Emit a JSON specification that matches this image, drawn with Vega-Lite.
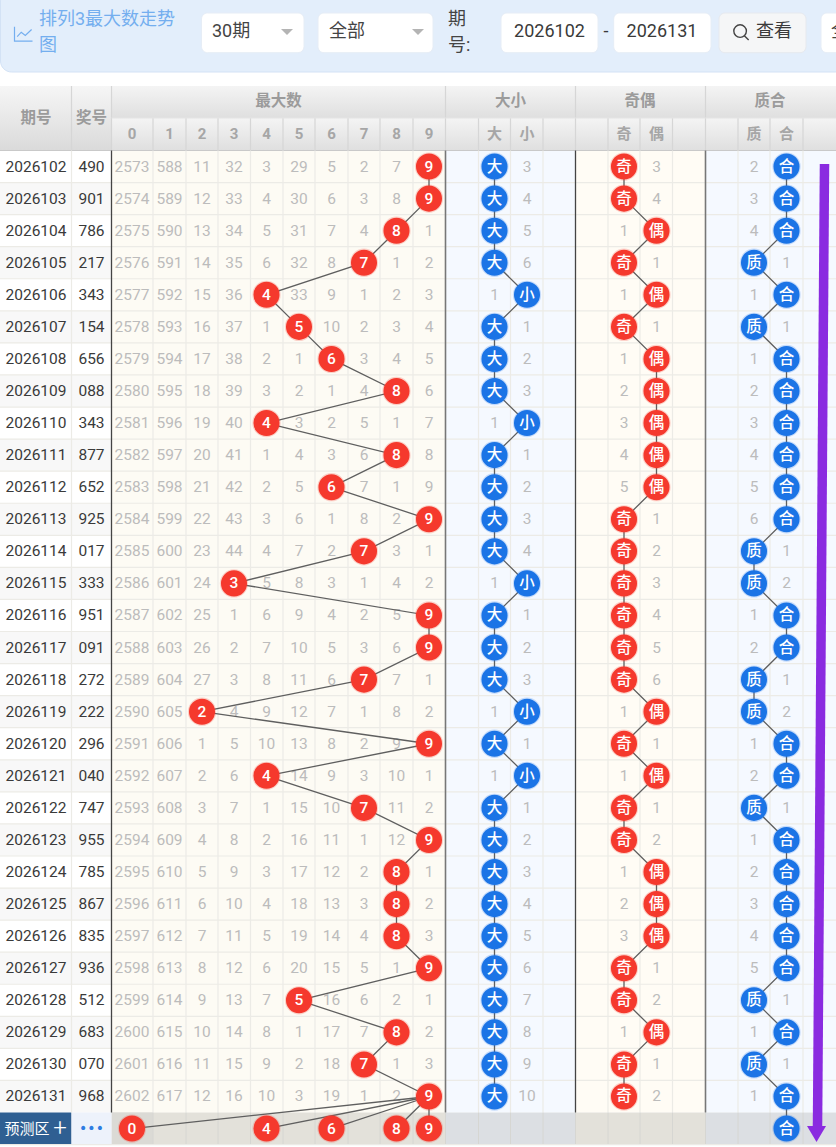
{"$schema":"https://vega.github.io/schema/vega-lite/v6.json","width":836,"height":1147,"padding":0,"autosize":{"type":"none"},"background":"#ffffff","config":{"view":{"stroke":null},"text":{"font":"Roboto, Noto Sans CJK SC"}},
"datasets":{
"zones":[
{"zone":"alt","col":-2.5,"col2":-0.5,"row":0.5,"row2":1.5},{"zone":"alt","col":-2.5,"col2":-0.5,"row":2.5,"row2":3.5},{"zone":"alt","col":-2.5,"col2":-0.5,"row":4.5,"row2":5.5},{"zone":"alt","col":-2.5,"col2":-0.5,"row":6.5,"row2":7.5},{"zone":"alt","col":-2.5,"col2":-0.5,"row":8.5,"row2":9.5},{"zone":"alt","col":-2.5,"col2":-0.5,"row":10.5,"row2":11.5},{"zone":"alt","col":-2.5,"col2":-0.5,"row":12.5,"row2":13.5},{"zone":"alt","col":-2.5,"col2":-0.5,"row":14.5,"row2":15.5},{"zone":"alt","col":-2.5,"col2":-0.5,"row":16.5,"row2":17.5},{"zone":"alt","col":-2.5,"col2":-0.5,"row":18.5,"row2":19.5},{"zone":"alt","col":-2.5,"col2":-0.5,"row":20.5,"row2":21.5},{"zone":"alt","col":-2.5,"col2":-0.5,"row":22.5,"row2":23.5},{"zone":"alt","col":-2.5,"col2":-0.5,"row":24.5,"row2":25.5},{"zone":"alt","col":-2.5,"col2":-0.5,"row":26.5,"row2":27.5},{"zone":"alt","col":-2.5,"col2":-0.5,"row":28.5,"row2":29.5},
{"zone":"cream","col":-0.5,"col2":9.5,"row":-0.5,"row2":29.5},{"zone":"blue","col":9.5,"col2":13.5,"row":-0.5,"row2":29.5},{"zone":"cream2","col":13.5,"col2":17.5,"row":-0.5,"row2":29.5},{"zone":"blue","col":17.5,"col2":21.5,"row":-0.5,"row2":29.5},
{"zone":"fcream","col":-0.5,"col2":9.5,"row":29.5,"row2":30.5},{"zone":"fcell","col":-0.5,"col2":0.5,"row":29.5,"row2":30.5},{"zone":"fblue","col":9.5,"col2":13.5,"row":29.5,"row2":30.5},{"zone":"fcream","col":13.5,"col2":17.5,"row":29.5,"row2":30.5},{"zone":"fblue","col":17.5,"col2":21.5,"row":29.5,"row2":30.5},
{"zone":"navy","col":-2.5,"col2":-1.5,"row":29.5,"row2":30.5},{"zone":"pale","col":-1.5,"col2":-0.5,"row":29.5,"row2":30.5}],
"headFull":[{"col":-2.5,"col2":-1.5,"row":-13,"row2":-0.5},{"col":-1.5,"col2":-0.5,"row":-13,"row2":-0.5}],
"headBand":[{"col":-0.5,"col2":21.5,"row":-13,"row2":-11},{"col":-0.5,"col2":21.5,"row":-11,"row2":-0.5}],
"controls":[{"col":103,"col2":106,"row":-19,"row2":-15},{"col":107,"col2":110,"row":-19,"row2":-15},{"col":112,"col2":114,"row":-19,"row2":-15},{"col":116,"col2":118,"row":-19,"row2":-15},{"col":123,"col2":125,"row":-19,"row2":-15}],
"carets":[{"col":105,"row":-17},{"col":109,"row":-17}],
"gridV":[{"col":-1.5,"row":-0.5},{"col":0.5,"row":-0.5},{"col":1.5,"row":-0.5},{"col":2.5,"row":-0.5},{"col":3.5,"row":-0.5},{"col":4.5,"row":-0.5},{"col":5.5,"row":-0.5},{"col":6.5,"row":-0.5},{"col":7.5,"row":-0.5},{"col":8.5,"row":-0.5},{"col":10.5,"row":-0.5},{"col":11.5,"row":-0.5},{"col":12.5,"row":-0.5},{"col":14.5,"row":-0.5},{"col":15.5,"row":-0.5},{"col":16.5,"row":-0.5},{"col":18.5,"row":-0.5},{"col":19.5,"row":-0.5},{"col":20.5,"row":-0.5}],
"gridFore":[{"col":0.5,"row":29.5},{"col":1.5,"row":29.5},{"col":2.5,"row":29.5},{"col":3.5,"row":29.5},{"col":4.5,"row":29.5},{"col":5.5,"row":29.5},{"col":6.5,"row":29.5},{"col":7.5,"row":29.5},{"col":8.5,"row":29.5},{"col":9.5,"row":29.5},{"col":10.5,"row":29.5},{"col":11.5,"row":29.5},{"col":12.5,"row":29.5},{"col":13.5,"row":29.5},{"col":14.5,"row":29.5},{"col":15.5,"row":29.5},{"col":16.5,"row":29.5},{"col":17.5,"row":29.5},{"col":18.5,"row":29.5},{"col":19.5,"row":29.5},{"col":20.5,"row":29.5}],
"headV":[{"col":-1.5,"row":-13},{"col":-0.5,"row":-13},{"col":9.5,"row":-13},{"col":13.5,"row":-13},{"col":17.5,"row":-13},{"col":0.5,"row":-11},{"col":1.5,"row":-11},{"col":2.5,"row":-11},{"col":3.5,"row":-11},{"col":4.5,"row":-11},{"col":5.5,"row":-11},{"col":6.5,"row":-11},{"col":7.5,"row":-11},{"col":8.5,"row":-11},{"col":10.5,"row":-11},{"col":11.5,"row":-11},{"col":12.5,"row":-11},{"col":14.5,"row":-11},{"col":15.5,"row":-11},{"col":16.5,"row":-11},{"col":18.5,"row":-11},{"col":19.5,"row":-11},{"col":20.5,"row":-11}],
"strong":[{"col":-0.5,"row":-0.5,"tone":"a"},{"col":9.5,"row":-0.5,"tone":"b"},{"col":13.5,"row":-0.5,"tone":"a"},{"col":17.5,"row":-0.5,"tone":"b"}],
"rowLines":[{"col":-2.5,"row":0.5},{"col":-2.5,"row":1.5},{"col":-2.5,"row":2.5},{"col":-2.5,"row":3.5},{"col":-2.5,"row":4.5},{"col":-2.5,"row":5.5},{"col":-2.5,"row":6.5},{"col":-2.5,"row":7.5},{"col":-2.5,"row":8.5},{"col":-2.5,"row":9.5},{"col":-2.5,"row":10.5},{"col":-2.5,"row":11.5},{"col":-2.5,"row":12.5},{"col":-2.5,"row":13.5},{"col":-2.5,"row":14.5},{"col":-2.5,"row":15.5},{"col":-2.5,"row":16.5},{"col":-2.5,"row":17.5},{"col":-2.5,"row":18.5},{"col":-2.5,"row":19.5},{"col":-2.5,"row":20.5},{"col":-2.5,"row":21.5},{"col":-2.5,"row":22.5},{"col":-2.5,"row":23.5},{"col":-2.5,"row":24.5},{"col":-2.5,"row":25.5},{"col":-2.5,"row":26.5},{"col":-2.5,"row":27.5},{"col":-2.5,"row":28.5},{"col":-2.5,"row":30.5}],
"draws":[{"row":0,"col":-2,"text":"2026102"},{"row":0,"col":-1,"text":"490"},{"row":1,"col":-2,"text":"2026103"},{"row":1,"col":-1,"text":"901"},{"row":2,"col":-2,"text":"2026104"},{"row":2,"col":-1,"text":"786"},{"row":3,"col":-2,"text":"2026105"},{"row":3,"col":-1,"text":"217"},{"row":4,"col":-2,"text":"2026106"},{"row":4,"col":-1,"text":"343"},{"row":5,"col":-2,"text":"2026107"},{"row":5,"col":-1,"text":"154"},{"row":6,"col":-2,"text":"2026108"},{"row":6,"col":-1,"text":"656"},{"row":7,"col":-2,"text":"2026109"},{"row":7,"col":-1,"text":"088"},{"row":8,"col":-2,"text":"2026110"},{"row":8,"col":-1,"text":"343"},{"row":9,"col":-2,"text":"2026111"},{"row":9,"col":-1,"text":"877"},{"row":10,"col":-2,"text":"2026112"},{"row":10,"col":-1,"text":"652"},{"row":11,"col":-2,"text":"2026113"},{"row":11,"col":-1,"text":"925"},{"row":12,"col":-2,"text":"2026114"},{"row":12,"col":-1,"text":"017"},{"row":13,"col":-2,"text":"2026115"},{"row":13,"col":-1,"text":"333"},{"row":14,"col":-2,"text":"2026116"},{"row":14,"col":-1,"text":"951"},{"row":15,"col":-2,"text":"2026117"},{"row":15,"col":-1,"text":"091"},{"row":16,"col":-2,"text":"2026118"},{"row":16,"col":-1,"text":"272"},{"row":17,"col":-2,"text":"2026119"},{"row":17,"col":-1,"text":"222"},{"row":18,"col":-2,"text":"2026120"},{"row":18,"col":-1,"text":"296"},{"row":19,"col":-2,"text":"2026121"},{"row":19,"col":-1,"text":"040"},{"row":20,"col":-2,"text":"2026122"},{"row":20,"col":-1,"text":"747"},{"row":21,"col":-2,"text":"2026123"},{"row":21,"col":-1,"text":"955"},{"row":22,"col":-2,"text":"2026124"},{"row":22,"col":-1,"text":"785"},{"row":23,"col":-2,"text":"2026125"},{"row":23,"col":-1,"text":"867"},{"row":24,"col":-2,"text":"2026126"},{"row":24,"col":-1,"text":"835"},{"row":25,"col":-2,"text":"2026127"},{"row":25,"col":-1,"text":"936"},{"row":26,"col":-2,"text":"2026128"},{"row":26,"col":-1,"text":"512"},{"row":27,"col":-2,"text":"2026129"},{"row":27,"col":-1,"text":"683"},{"row":28,"col":-2,"text":"2026130"},{"row":28,"col":-1,"text":"070"},{"row":29,"col":-2,"text":"2026131"},{"row":29,"col":-1,"text":"968"}],
"misses":[
{"row":0,"col":0,"text":"2573"},{"row":0,"col":1,"text":"588"},{"row":0,"col":2,"text":"11"},{"row":0,"col":3,"text":"32"},{"row":0,"col":4,"text":"3"},{"row":0,"col":5,"text":"29"},{"row":0,"col":6,"text":"5"},{"row":0,"col":7,"text":"2"},{"row":0,"col":8,"text":"7"},{"row":0,"col":12,"text":"3"},{"row":0,"col":16,"text":"3"},{"row":0,"col":19,"text":"2"},
{"row":1,"col":0,"text":"2574"},{"row":1,"col":1,"text":"589"},{"row":1,"col":2,"text":"12"},{"row":1,"col":3,"text":"33"},{"row":1,"col":4,"text":"4"},{"row":1,"col":5,"text":"30"},{"row":1,"col":6,"text":"6"},{"row":1,"col":7,"text":"3"},{"row":1,"col":8,"text":"8"},{"row":1,"col":12,"text":"4"},{"row":1,"col":16,"text":"4"},{"row":1,"col":19,"text":"3"},
{"row":2,"col":0,"text":"2575"},{"row":2,"col":1,"text":"590"},{"row":2,"col":2,"text":"13"},{"row":2,"col":3,"text":"34"},{"row":2,"col":4,"text":"5"},{"row":2,"col":5,"text":"31"},{"row":2,"col":6,"text":"7"},{"row":2,"col":7,"text":"4"},{"row":2,"col":9,"text":"1"},{"row":2,"col":12,"text":"5"},{"row":2,"col":15,"text":"1"},{"row":2,"col":19,"text":"4"},
{"row":3,"col":0,"text":"2576"},{"row":3,"col":1,"text":"591"},{"row":3,"col":2,"text":"14"},{"row":3,"col":3,"text":"35"},{"row":3,"col":4,"text":"6"},{"row":3,"col":5,"text":"32"},{"row":3,"col":6,"text":"8"},{"row":3,"col":8,"text":"1"},{"row":3,"col":9,"text":"2"},{"row":3,"col":12,"text":"6"},{"row":3,"col":16,"text":"1"},{"row":3,"col":20,"text":"1"},
{"row":4,"col":0,"text":"2577"},{"row":4,"col":1,"text":"592"},{"row":4,"col":2,"text":"15"},{"row":4,"col":3,"text":"36"},{"row":4,"col":5,"text":"33"},{"row":4,"col":6,"text":"9"},{"row":4,"col":7,"text":"1"},{"row":4,"col":8,"text":"2"},{"row":4,"col":9,"text":"3"},{"row":4,"col":11,"text":"1"},{"row":4,"col":15,"text":"1"},{"row":4,"col":19,"text":"1"},
{"row":5,"col":0,"text":"2578"},{"row":5,"col":1,"text":"593"},{"row":5,"col":2,"text":"16"},{"row":5,"col":3,"text":"37"},{"row":5,"col":4,"text":"1"},{"row":5,"col":6,"text":"10"},{"row":5,"col":7,"text":"2"},{"row":5,"col":8,"text":"3"},{"row":5,"col":9,"text":"4"},{"row":5,"col":12,"text":"1"},{"row":5,"col":16,"text":"1"},{"row":5,"col":20,"text":"1"},
{"row":6,"col":0,"text":"2579"},{"row":6,"col":1,"text":"594"},{"row":6,"col":2,"text":"17"},{"row":6,"col":3,"text":"38"},{"row":6,"col":4,"text":"2"},{"row":6,"col":5,"text":"1"},{"row":6,"col":7,"text":"3"},{"row":6,"col":8,"text":"4"},{"row":6,"col":9,"text":"5"},{"row":6,"col":12,"text":"2"},{"row":6,"col":15,"text":"1"},{"row":6,"col":19,"text":"1"},
{"row":7,"col":0,"text":"2580"},{"row":7,"col":1,"text":"595"},{"row":7,"col":2,"text":"18"},{"row":7,"col":3,"text":"39"},{"row":7,"col":4,"text":"3"},{"row":7,"col":5,"text":"2"},{"row":7,"col":6,"text":"1"},{"row":7,"col":7,"text":"4"},{"row":7,"col":9,"text":"6"},{"row":7,"col":12,"text":"3"},{"row":7,"col":15,"text":"2"},{"row":7,"col":19,"text":"2"},
{"row":8,"col":0,"text":"2581"},{"row":8,"col":1,"text":"596"},{"row":8,"col":2,"text":"19"},{"row":8,"col":3,"text":"40"},{"row":8,"col":5,"text":"3"},{"row":8,"col":6,"text":"2"},{"row":8,"col":7,"text":"5"},{"row":8,"col":8,"text":"1"},{"row":8,"col":9,"text":"7"},{"row":8,"col":11,"text":"1"},{"row":8,"col":15,"text":"3"},{"row":8,"col":19,"text":"3"},
{"row":9,"col":0,"text":"2582"},{"row":9,"col":1,"text":"597"},{"row":9,"col":2,"text":"20"},{"row":9,"col":3,"text":"41"},{"row":9,"col":4,"text":"1"},{"row":9,"col":5,"text":"4"},{"row":9,"col":6,"text":"3"},{"row":9,"col":7,"text":"6"},{"row":9,"col":9,"text":"8"},{"row":9,"col":12,"text":"1"},{"row":9,"col":15,"text":"4"},{"row":9,"col":19,"text":"4"},
{"row":10,"col":0,"text":"2583"},{"row":10,"col":1,"text":"598"},{"row":10,"col":2,"text":"21"},{"row":10,"col":3,"text":"42"},{"row":10,"col":4,"text":"2"},{"row":10,"col":5,"text":"5"},{"row":10,"col":7,"text":"7"},{"row":10,"col":8,"text":"1"},{"row":10,"col":9,"text":"9"},{"row":10,"col":12,"text":"2"},{"row":10,"col":15,"text":"5"},{"row":10,"col":19,"text":"5"},
{"row":11,"col":0,"text":"2584"},{"row":11,"col":1,"text":"599"},{"row":11,"col":2,"text":"22"},{"row":11,"col":3,"text":"43"},{"row":11,"col":4,"text":"3"},{"row":11,"col":5,"text":"6"},{"row":11,"col":6,"text":"1"},{"row":11,"col":7,"text":"8"},{"row":11,"col":8,"text":"2"},{"row":11,"col":12,"text":"3"},{"row":11,"col":16,"text":"1"},{"row":11,"col":19,"text":"6"},
{"row":12,"col":0,"text":"2585"},{"row":12,"col":1,"text":"600"},{"row":12,"col":2,"text":"23"},{"row":12,"col":3,"text":"44"},{"row":12,"col":4,"text":"4"},{"row":12,"col":5,"text":"7"},{"row":12,"col":6,"text":"2"},{"row":12,"col":8,"text":"3"},{"row":12,"col":9,"text":"1"},{"row":12,"col":12,"text":"4"},{"row":12,"col":16,"text":"2"},{"row":12,"col":20,"text":"1"},
{"row":13,"col":0,"text":"2586"},{"row":13,"col":1,"text":"601"},{"row":13,"col":2,"text":"24"},{"row":13,"col":4,"text":"5"},{"row":13,"col":5,"text":"8"},{"row":13,"col":6,"text":"3"},{"row":13,"col":7,"text":"1"},{"row":13,"col":8,"text":"4"},{"row":13,"col":9,"text":"2"},{"row":13,"col":11,"text":"1"},{"row":13,"col":16,"text":"3"},{"row":13,"col":20,"text":"2"},
{"row":14,"col":0,"text":"2587"},{"row":14,"col":1,"text":"602"},{"row":14,"col":2,"text":"25"},{"row":14,"col":3,"text":"1"},{"row":14,"col":4,"text":"6"},{"row":14,"col":5,"text":"9"},{"row":14,"col":6,"text":"4"},{"row":14,"col":7,"text":"2"},{"row":14,"col":8,"text":"5"},{"row":14,"col":12,"text":"1"},{"row":14,"col":16,"text":"4"},{"row":14,"col":19,"text":"1"},
{"row":15,"col":0,"text":"2588"},{"row":15,"col":1,"text":"603"},{"row":15,"col":2,"text":"26"},{"row":15,"col":3,"text":"2"},{"row":15,"col":4,"text":"7"},{"row":15,"col":5,"text":"10"},{"row":15,"col":6,"text":"5"},{"row":15,"col":7,"text":"3"},{"row":15,"col":8,"text":"6"},{"row":15,"col":12,"text":"2"},{"row":15,"col":16,"text":"5"},{"row":15,"col":19,"text":"2"},
{"row":16,"col":0,"text":"2589"},{"row":16,"col":1,"text":"604"},{"row":16,"col":2,"text":"27"},{"row":16,"col":3,"text":"3"},{"row":16,"col":4,"text":"8"},{"row":16,"col":5,"text":"11"},{"row":16,"col":6,"text":"6"},{"row":16,"col":8,"text":"7"},{"row":16,"col":9,"text":"1"},{"row":16,"col":12,"text":"3"},{"row":16,"col":16,"text":"6"},{"row":16,"col":20,"text":"1"},
{"row":17,"col":0,"text":"2590"},{"row":17,"col":1,"text":"605"},{"row":17,"col":3,"text":"4"},{"row":17,"col":4,"text":"9"},{"row":17,"col":5,"text":"12"},{"row":17,"col":6,"text":"7"},{"row":17,"col":7,"text":"1"},{"row":17,"col":8,"text":"8"},{"row":17,"col":9,"text":"2"},{"row":17,"col":11,"text":"1"},{"row":17,"col":15,"text":"1"},{"row":17,"col":20,"text":"2"},
{"row":18,"col":0,"text":"2591"},{"row":18,"col":1,"text":"606"},{"row":18,"col":2,"text":"1"},{"row":18,"col":3,"text":"5"},{"row":18,"col":4,"text":"10"},{"row":18,"col":5,"text":"13"},{"row":18,"col":6,"text":"8"},{"row":18,"col":7,"text":"2"},{"row":18,"col":8,"text":"9"},{"row":18,"col":12,"text":"1"},{"row":18,"col":16,"text":"1"},{"row":18,"col":19,"text":"1"},
{"row":19,"col":0,"text":"2592"},{"row":19,"col":1,"text":"607"},{"row":19,"col":2,"text":"2"},{"row":19,"col":3,"text":"6"},{"row":19,"col":5,"text":"14"},{"row":19,"col":6,"text":"9"},{"row":19,"col":7,"text":"3"},{"row":19,"col":8,"text":"10"},{"row":19,"col":9,"text":"1"},{"row":19,"col":11,"text":"1"},{"row":19,"col":15,"text":"1"},{"row":19,"col":19,"text":"2"},
{"row":20,"col":0,"text":"2593"},{"row":20,"col":1,"text":"608"},{"row":20,"col":2,"text":"3"},{"row":20,"col":3,"text":"7"},{"row":20,"col":4,"text":"1"},{"row":20,"col":5,"text":"15"},{"row":20,"col":6,"text":"10"},{"row":20,"col":8,"text":"11"},{"row":20,"col":9,"text":"2"},{"row":20,"col":12,"text":"1"},{"row":20,"col":16,"text":"1"},{"row":20,"col":20,"text":"1"},
{"row":21,"col":0,"text":"2594"},{"row":21,"col":1,"text":"609"},{"row":21,"col":2,"text":"4"},{"row":21,"col":3,"text":"8"},{"row":21,"col":4,"text":"2"},{"row":21,"col":5,"text":"16"},{"row":21,"col":6,"text":"11"},{"row":21,"col":7,"text":"1"},{"row":21,"col":8,"text":"12"},{"row":21,"col":12,"text":"2"},{"row":21,"col":16,"text":"2"},{"row":21,"col":19,"text":"1"},
{"row":22,"col":0,"text":"2595"},{"row":22,"col":1,"text":"610"},{"row":22,"col":2,"text":"5"},{"row":22,"col":3,"text":"9"},{"row":22,"col":4,"text":"3"},{"row":22,"col":5,"text":"17"},{"row":22,"col":6,"text":"12"},{"row":22,"col":7,"text":"2"},{"row":22,"col":9,"text":"1"},{"row":22,"col":12,"text":"3"},{"row":22,"col":15,"text":"1"},{"row":22,"col":19,"text":"2"},
{"row":23,"col":0,"text":"2596"},{"row":23,"col":1,"text":"611"},{"row":23,"col":2,"text":"6"},{"row":23,"col":3,"text":"10"},{"row":23,"col":4,"text":"4"},{"row":23,"col":5,"text":"18"},{"row":23,"col":6,"text":"13"},{"row":23,"col":7,"text":"3"},{"row":23,"col":9,"text":"2"},{"row":23,"col":12,"text":"4"},{"row":23,"col":15,"text":"2"},{"row":23,"col":19,"text":"3"},
{"row":24,"col":0,"text":"2597"},{"row":24,"col":1,"text":"612"},{"row":24,"col":2,"text":"7"},{"row":24,"col":3,"text":"11"},{"row":24,"col":4,"text":"5"},{"row":24,"col":5,"text":"19"},{"row":24,"col":6,"text":"14"},{"row":24,"col":7,"text":"4"},{"row":24,"col":9,"text":"3"},{"row":24,"col":12,"text":"5"},{"row":24,"col":15,"text":"3"},{"row":24,"col":19,"text":"4"},
{"row":25,"col":0,"text":"2598"},{"row":25,"col":1,"text":"613"},{"row":25,"col":2,"text":"8"},{"row":25,"col":3,"text":"12"},{"row":25,"col":4,"text":"6"},{"row":25,"col":5,"text":"20"},{"row":25,"col":6,"text":"15"},{"row":25,"col":7,"text":"5"},{"row":25,"col":8,"text":"1"},{"row":25,"col":12,"text":"6"},{"row":25,"col":16,"text":"1"},{"row":25,"col":19,"text":"5"},
{"row":26,"col":0,"text":"2599"},{"row":26,"col":1,"text":"614"},{"row":26,"col":2,"text":"9"},{"row":26,"col":3,"text":"13"},{"row":26,"col":4,"text":"7"},{"row":26,"col":6,"text":"16"},{"row":26,"col":7,"text":"6"},{"row":26,"col":8,"text":"2"},{"row":26,"col":9,"text":"1"},{"row":26,"col":12,"text":"7"},{"row":26,"col":16,"text":"2"},{"row":26,"col":20,"text":"1"},
{"row":27,"col":0,"text":"2600"},{"row":27,"col":1,"text":"615"},{"row":27,"col":2,"text":"10"},{"row":27,"col":3,"text":"14"},{"row":27,"col":4,"text":"8"},{"row":27,"col":5,"text":"1"},{"row":27,"col":6,"text":"17"},{"row":27,"col":7,"text":"7"},{"row":27,"col":9,"text":"2"},{"row":27,"col":12,"text":"8"},{"row":27,"col":15,"text":"1"},{"row":27,"col":19,"text":"1"},
{"row":28,"col":0,"text":"2601"},{"row":28,"col":1,"text":"616"},{"row":28,"col":2,"text":"11"},{"row":28,"col":3,"text":"15"},{"row":28,"col":4,"text":"9"},{"row":28,"col":5,"text":"2"},{"row":28,"col":6,"text":"18"},{"row":28,"col":8,"text":"1"},{"row":28,"col":9,"text":"3"},{"row":28,"col":12,"text":"9"},{"row":28,"col":16,"text":"1"},{"row":28,"col":20,"text":"1"},
{"row":29,"col":0,"text":"2602"},{"row":29,"col":1,"text":"617"},{"row":29,"col":2,"text":"12"},{"row":29,"col":3,"text":"16"},{"row":29,"col":4,"text":"10"},{"row":29,"col":5,"text":"3"},{"row":29,"col":6,"text":"19"},{"row":29,"col":7,"text":"1"},{"row":29,"col":8,"text":"2"},{"row":29,"col":12,"text":"10"},{"row":29,"col":16,"text":"2"},{"row":29,"col":19,"text":"1"}],
"hits":[
{"row":0,"col":9,"text":"9","group":"max","hue":"red"},{"row":1,"col":9,"text":"9","group":"max","hue":"red"},{"row":2,"col":8,"text":"8","group":"max","hue":"red"},{"row":3,"col":7,"text":"7","group":"max","hue":"red"},{"row":4,"col":4,"text":"4","group":"max","hue":"red"},{"row":5,"col":5,"text":"5","group":"max","hue":"red"},{"row":6,"col":6,"text":"6","group":"max","hue":"red"},{"row":7,"col":8,"text":"8","group":"max","hue":"red"},{"row":8,"col":4,"text":"4","group":"max","hue":"red"},{"row":9,"col":8,"text":"8","group":"max","hue":"red"},{"row":10,"col":6,"text":"6","group":"max","hue":"red"},{"row":11,"col":9,"text":"9","group":"max","hue":"red"},{"row":12,"col":7,"text":"7","group":"max","hue":"red"},{"row":13,"col":3,"text":"3","group":"max","hue":"red"},{"row":14,"col":9,"text":"9","group":"max","hue":"red"},{"row":15,"col":9,"text":"9","group":"max","hue":"red"},{"row":16,"col":7,"text":"7","group":"max","hue":"red"},{"row":17,"col":2,"text":"2","group":"max","hue":"red"},{"row":18,"col":9,"text":"9","group":"max","hue":"red"},{"row":19,"col":4,"text":"4","group":"max","hue":"red"},{"row":20,"col":7,"text":"7","group":"max","hue":"red"},{"row":21,"col":9,"text":"9","group":"max","hue":"red"},{"row":22,"col":8,"text":"8","group":"max","hue":"red"},{"row":23,"col":8,"text":"8","group":"max","hue":"red"},{"row":24,"col":8,"text":"8","group":"max","hue":"red"},{"row":25,"col":9,"text":"9","group":"max","hue":"red"},{"row":26,"col":5,"text":"5","group":"max","hue":"red"},{"row":27,"col":8,"text":"8","group":"max","hue":"red"},{"row":28,"col":7,"text":"7","group":"max","hue":"red"},{"row":29,"col":9,"text":"9","group":"max","hue":"red"},
{"row":30,"col":0,"text":"0","group":"forecast","hue":"red"},{"row":30,"col":4,"text":"4","group":"forecast","hue":"red"},{"row":30,"col":6,"text":"6","group":"forecast","hue":"red"},{"row":30,"col":8,"text":"8","group":"forecast","hue":"red"},{"row":30,"col":9,"text":"9","group":"forecast","hue":"red"},
{"row":0,"col":11,"text":"大","group":"bs","hue":"blue"},{"row":1,"col":11,"text":"大","group":"bs","hue":"blue"},{"row":2,"col":11,"text":"大","group":"bs","hue":"blue"},{"row":3,"col":11,"text":"大","group":"bs","hue":"blue"},{"row":4,"col":12,"text":"小","group":"bs","hue":"blue"},{"row":5,"col":11,"text":"大","group":"bs","hue":"blue"},{"row":6,"col":11,"text":"大","group":"bs","hue":"blue"},{"row":7,"col":11,"text":"大","group":"bs","hue":"blue"},{"row":8,"col":12,"text":"小","group":"bs","hue":"blue"},{"row":9,"col":11,"text":"大","group":"bs","hue":"blue"},{"row":10,"col":11,"text":"大","group":"bs","hue":"blue"},{"row":11,"col":11,"text":"大","group":"bs","hue":"blue"},{"row":12,"col":11,"text":"大","group":"bs","hue":"blue"},{"row":13,"col":12,"text":"小","group":"bs","hue":"blue"},{"row":14,"col":11,"text":"大","group":"bs","hue":"blue"},{"row":15,"col":11,"text":"大","group":"bs","hue":"blue"},{"row":16,"col":11,"text":"大","group":"bs","hue":"blue"},{"row":17,"col":12,"text":"小","group":"bs","hue":"blue"},{"row":18,"col":11,"text":"大","group":"bs","hue":"blue"},{"row":19,"col":12,"text":"小","group":"bs","hue":"blue"},{"row":20,"col":11,"text":"大","group":"bs","hue":"blue"},{"row":21,"col":11,"text":"大","group":"bs","hue":"blue"},{"row":22,"col":11,"text":"大","group":"bs","hue":"blue"},{"row":23,"col":11,"text":"大","group":"bs","hue":"blue"},{"row":24,"col":11,"text":"大","group":"bs","hue":"blue"},{"row":25,"col":11,"text":"大","group":"bs","hue":"blue"},{"row":26,"col":11,"text":"大","group":"bs","hue":"blue"},{"row":27,"col":11,"text":"大","group":"bs","hue":"blue"},{"row":28,"col":11,"text":"大","group":"bs","hue":"blue"},{"row":29,"col":11,"text":"大","group":"bs","hue":"blue"},
{"row":0,"col":15,"text":"奇","group":"oe","hue":"red"},{"row":1,"col":15,"text":"奇","group":"oe","hue":"red"},{"row":2,"col":16,"text":"偶","group":"oe","hue":"red"},{"row":3,"col":15,"text":"奇","group":"oe","hue":"red"},{"row":4,"col":16,"text":"偶","group":"oe","hue":"red"},{"row":5,"col":15,"text":"奇","group":"oe","hue":"red"},{"row":6,"col":16,"text":"偶","group":"oe","hue":"red"},{"row":7,"col":16,"text":"偶","group":"oe","hue":"red"},{"row":8,"col":16,"text":"偶","group":"oe","hue":"red"},{"row":9,"col":16,"text":"偶","group":"oe","hue":"red"},{"row":10,"col":16,"text":"偶","group":"oe","hue":"red"},{"row":11,"col":15,"text":"奇","group":"oe","hue":"red"},{"row":12,"col":15,"text":"奇","group":"oe","hue":"red"},{"row":13,"col":15,"text":"奇","group":"oe","hue":"red"},{"row":14,"col":15,"text":"奇","group":"oe","hue":"red"},{"row":15,"col":15,"text":"奇","group":"oe","hue":"red"},{"row":16,"col":15,"text":"奇","group":"oe","hue":"red"},{"row":17,"col":16,"text":"偶","group":"oe","hue":"red"},{"row":18,"col":15,"text":"奇","group":"oe","hue":"red"},{"row":19,"col":16,"text":"偶","group":"oe","hue":"red"},{"row":20,"col":15,"text":"奇","group":"oe","hue":"red"},{"row":21,"col":15,"text":"奇","group":"oe","hue":"red"},{"row":22,"col":16,"text":"偶","group":"oe","hue":"red"},{"row":23,"col":16,"text":"偶","group":"oe","hue":"red"},{"row":24,"col":16,"text":"偶","group":"oe","hue":"red"},{"row":25,"col":15,"text":"奇","group":"oe","hue":"red"},{"row":26,"col":15,"text":"奇","group":"oe","hue":"red"},{"row":27,"col":16,"text":"偶","group":"oe","hue":"red"},{"row":28,"col":15,"text":"奇","group":"oe","hue":"red"},{"row":29,"col":15,"text":"奇","group":"oe","hue":"red"},
{"row":0,"col":20,"text":"合","group":"pc","hue":"blue"},{"row":1,"col":20,"text":"合","group":"pc","hue":"blue"},{"row":2,"col":20,"text":"合","group":"pc","hue":"blue"},{"row":3,"col":19,"text":"质","group":"pc","hue":"blue"},{"row":4,"col":20,"text":"合","group":"pc","hue":"blue"},{"row":5,"col":19,"text":"质","group":"pc","hue":"blue"},{"row":6,"col":20,"text":"合","group":"pc","hue":"blue"},{"row":7,"col":20,"text":"合","group":"pc","hue":"blue"},{"row":8,"col":20,"text":"合","group":"pc","hue":"blue"},{"row":9,"col":20,"text":"合","group":"pc","hue":"blue"},{"row":10,"col":20,"text":"合","group":"pc","hue":"blue"},{"row":11,"col":20,"text":"合","group":"pc","hue":"blue"},{"row":12,"col":19,"text":"质","group":"pc","hue":"blue"},{"row":13,"col":19,"text":"质","group":"pc","hue":"blue"},{"row":14,"col":20,"text":"合","group":"pc","hue":"blue"},{"row":15,"col":20,"text":"合","group":"pc","hue":"blue"},{"row":16,"col":19,"text":"质","group":"pc","hue":"blue"},{"row":17,"col":19,"text":"质","group":"pc","hue":"blue"},{"row":18,"col":20,"text":"合","group":"pc","hue":"blue"},{"row":19,"col":20,"text":"合","group":"pc","hue":"blue"},{"row":20,"col":19,"text":"质","group":"pc","hue":"blue"},{"row":21,"col":20,"text":"合","group":"pc","hue":"blue"},{"row":22,"col":20,"text":"合","group":"pc","hue":"blue"},{"row":23,"col":20,"text":"合","group":"pc","hue":"blue"},{"row":24,"col":20,"text":"合","group":"pc","hue":"blue"},{"row":25,"col":20,"text":"合","group":"pc","hue":"blue"},{"row":26,"col":19,"text":"质","group":"pc","hue":"blue"},{"row":27,"col":20,"text":"合","group":"pc","hue":"blue"},{"row":28,"col":19,"text":"质","group":"pc","hue":"blue"},{"row":29,"col":20,"text":"合","group":"pc","hue":"blue"},{"row":30,"col":20,"text":"合","group":"pc","hue":"blue"}],
"links":[{"link":"0","row":29,"col":9},{"link":"0","row":30,"col":0},{"link":"4","row":29,"col":9},{"link":"4","row":30,"col":4},{"link":"6","row":29,"col":9},{"link":"6","row":30,"col":6},{"link":"8","row":29,"col":9},{"link":"8","row":30,"col":8},{"link":"9","row":29,"col":9},{"link":"9","row":30,"col":9}],
"titles":[{"text":"排列3最大数走势","col":102,"row":-18},{"text":"图","col":102,"row":-16}],
"ctlLeft":[{"text":"30期","col":104,"row":-17},{"text":"全部","col":108,"row":-17},{"text":"期","col":111,"row":-18},{"text":"号:","col":111,"row":-16},{"text":"全部","col":124,"row":-17}],
"ctlCenter":[{"text":"2026102","col":113,"row":-17},{"text":"-","col":115,"row":-17},{"text":"2026131","col":117,"row":-17},{"text":"查看","col":121,"row":-17}],
"headText":[{"text":"最大数","col":130,"row":-12},{"text":"大小","col":11.5,"row":-12},{"text":"奇偶","col":15.5,"row":-12},{"text":"质合","col":19.5,"row":-12},{"text":"期号","col":-2,"row":-11},{"text":"奖号","col":-1,"row":-11}],
"subText":[{"text":"0","col":0,"row":-10},{"text":"1","col":1,"row":-10},{"text":"2","col":2,"row":-10},{"text":"3","col":3,"row":-10},{"text":"4","col":4,"row":-10},{"text":"5","col":5,"row":-10},{"text":"6","col":6,"row":-10},{"text":"7","col":7,"row":-10},{"text":"8","col":8,"row":-10},{"text":"9","col":9,"row":-10},{"text":"大","col":11,"row":-10},{"text":"小","col":12,"row":-10},{"text":"奇","col":15,"row":-10},{"text":"偶","col":16,"row":-10},{"text":"质","col":19,"row":-10},{"text":"合","col":20,"row":-10}],
"arrow":[{"col":127,"row":-0.08},{"col":128,"row":30}]
},
"data":{"name":"zones"},
"encoding":{
"x":{"field":"col","type":"quantitative","axis":null,"scale":{"zero":false,"nice":false,"clamp":false,
"domain":[-2.5,-2,-1.5,-1,-0.5,0,0.5,1,1.5,2,2.5,3,3.5,4,4.5,5,5.5,6,6.5,7,7.5,8,8.5,9,9.5,10,10.5,11,11.5,12,12.5,13,13.5,14,14.5,15,15.5,16,16.5,17,17.5,18,18.5,19,19.5,20,20.5,21,21.5,100,101,102,103,104,105,106,107,108,109,110,111,112,113,114,115,116,117,118,119,120,121,122,123,124,125,126,127,128,129,130,131,132],
"range":[0,36,71.5,91.5,111.5,132,153,169.5,186,202,218,234,250.5,266.5,283,299,315,331.5,348,364,380,396.5,413,429,445.5,462,478.5,494.5,510.5,527,543,559,575.5,592,608,624,640,656.5,672.5,689,705.5,722,738,754,770,786.5,803,819.5,836,0.5,23.5,39,201.5,212,287,304,318,329,418,433,448,501,549.5,598,606,613.7,662,711,719,741,774,806,821,831,850,846,824.5,817.5,816.5,278.5,27,60]}},
"y":{"field":"row","type":"quantitative","axis":null,"scale":{"zero":false,"nice":false,"clamp":false,
"domain":[-20,-19,-18,-17,-16.5,-16,-15,-14,-13,-12,-11,-10,-0.5,30.5],
"range":[-10,13,20,32,34,46,52.7,72,86,101,118,134,150.5,1144.6]}}
},
"layer":[
{"data":{"values":[{"col":100,"col2":126,"row":-20,"row2":-14}]},"mark":{"type":"rect","fill":"#e3eefb","stroke":"#d3e2f5","strokeWidth":1,"cornerRadius":11},"encoding":{"x2":{"field":"col2"},"y2":{"field":"row2"}}},
{"data":{"name":"controls"},"mark":{"type":"rect","fill":"#ffffff","stroke":"#e6edf6","strokeWidth":1,"cornerRadius":6},"encoding":{"x2":{"field":"col2"},"y2":{"field":"row2"}}},
{"data":{"values":[{"col":119,"col2":122,"row":-19,"row2":-15}]},"mark":{"type":"rect","fill":"#f5f6f7","stroke":"#e6e9ee","strokeWidth":1,"cornerRadius":6},"encoding":{"x2":{"field":"col2"},"y2":{"field":"row2"}}},
{"data":{"name":"carets"},"mark":{"type":"point","shape":"M-1,-0.5 L1,-0.5 L0,0.5 Z","size":144,"filled":true,"fill":"#b4b4b4","stroke":null,"opacity":1}},
{"data":{"values":[{"col":101,"row":-16.5}]},"mark":{"type":"point","shape":"M-1,-0.8 L-1,0.8 L1,0.8 M-0.7,0.3 L-0.25,-0.2 L0.2,0.15 L0.9,-0.5","size":324,"filled":false,"stroke":"#74aeef","strokeWidth":1.2,"opacity":1}},
{"data":{"values":[{"col":120,"row":-17}]},"mark":{"type":"point","shape":"M0.6,-0.1 A0.7,0.7 0 1 1 -0.8,-0.1 A0.7,0.7 0 1 1 0.6,-0.1 M0.4,0.45 L0.85,0.9","size":324,"filled":false,"stroke":"#444444","strokeWidth":1.4,"opacity":1}},
{"data":{"name":"titles"},"mark":{"type":"text","align":"left","baseline":"middle","fontSize":18,"color":"#74aeef","font":"Roboto, Noto Sans CJK SC"},"encoding":{"text":{"field":"text"}}},
{"data":{"name":"ctlLeft"},"mark":{"type":"text","align":"left","baseline":"middle","fontSize":18,"color":"#444444","font":"Roboto, Noto Sans CJK SC"},"encoding":{"text":{"field":"text"}}},
{"data":{"name":"ctlCenter"},"mark":{"type":"text","align":"center","baseline":"middle","fontSize":18,"color":"#3a3a3a","font":"Roboto, Noto Sans CJK SC"},"encoding":{"text":{"field":"text"}}},
{"data":{"name":"zones"},"mark":{"type":"rect"},"encoding":{"x2":{"field":"col2"},"y2":{"field":"row2"},"fill":{"field":"zone","type":"nominal","legend":null,"scale":{"domain":["alt","cream","cream2","blue","fcream","fcell","fblue","navy","pale"],"range":["#f8f8f8","#fdfbf4","#fffcf5","#f5f9ff","#e3e1da","#dbdad5","#dcdfe3","#2f5f92","#edf2fb"]}}}},
{"data":{"name":"headFull"},"mark":{"type":"rect","color":{"gradient":"linear","x1":0,"y1":0,"x2":0,"y2":1,"stops":[{"offset":0,"color":"#f6f6f6"},{"offset":1,"color":"#dadada"}]}},"encoding":{"x2":{"field":"col2"},"y2":{"field":"row2"}}},
{"data":{"name":"headBand"},"mark":{"type":"rect","color":{"gradient":"linear","x1":0,"y1":0,"x2":0,"y2":1,"stops":[{"offset":0,"color":"#f4f4f4"},{"offset":1,"color":"#dfdfdf"}]}},"encoding":{"x2":{"field":"col2"},"y2":{"field":"row2"}}},
{"data":{"name":"headV"},"mark":{"type":"rule","color":"#d6d6d6","strokeWidth":1.2},"encoding":{"y2":{"datum":-0.5}}},
{"data":{"values":[{"col":-0.5,"col2":21.5,"row":-11}]},"mark":{"type":"rule","color":"#e4e4e4","strokeWidth":1},"encoding":{"x2":{"field":"col2"}}},
{"data":{"values":[{"col":-2.5,"col2":21.5,"row":-0.5}]},"mark":{"type":"rule","color":"#c9c9c9","strokeWidth":1.2},"encoding":{"x2":{"field":"col2"}}},
{"data":{"name":"gridV"},"mark":{"type":"rule","color":"#ecebe6","strokeWidth":1.2},"encoding":{"y2":{"datum":29.5}}},
{"data":{"name":"gridFore"},"mark":{"type":"rule","color":"#d6d6d2","strokeWidth":1},"encoding":{"y2":{"datum":30.5}}},
{"data":{"name":"rowLines"},"mark":{"type":"rule","color":"#ecebe6","strokeWidth":1.2},"encoding":{"x2":{"datum":21.5}}},
{"data":{"name":"strong"},"transform":[{"filter":"datum.tone==='a'"}],"mark":{"type":"rule","color":"#444444","strokeWidth":1.3},"encoding":{"y2":{"datum":29.5}}},
{"data":{"name":"strong"},"transform":[{"filter":"datum.tone==='b'"}],"mark":{"type":"rule","color":"#777777","strokeWidth":1.6},"encoding":{"y2":{"datum":29.5}}},
{"data":{"name":"headText"},"mark":{"type":"text","align":"center","baseline":"middle","fontSize":15.5,"fontWeight":"bold","color":"#9b9b9b","font":"Roboto, Noto Sans CJK SC"},"encoding":{"text":{"field":"text"}}},
{"data":{"name":"subText"},"mark":{"type":"text","align":"center","baseline":"middle","fontSize":15,"fontWeight":"bold","color":"#a6a6a6","font":"Roboto, Noto Sans CJK SC"},"encoding":{"text":{"field":"text"}}},
{"data":{"name":"draws"},"mark":{"type":"text","align":"center","baseline":"middle","fontSize":15.5,"color":"#3a3a3a","font":"Roboto, Noto Sans CJK SC"},"encoding":{"text":{"field":"text"}}},
{"data":{"name":"misses"},"mark":{"type":"text","align":"center","baseline":"middle","fontSize":15.5,"color":"#bcbcbc","font":"Roboto, Noto Sans CJK SC"},"encoding":{"text":{"field":"text"}}},
{"data":{"name":"hits"},"transform":[{"filter":"datum.group!=='forecast'"}],"mark":{"type":"line","color":"#5f5f5f","strokeWidth":1.3},"encoding":{"detail":{"field":"group"},"order":{"field":"row","type":"quantitative"}}},
{"data":{"name":"links"},"mark":{"type":"line","color":"#5f5f5f","strokeWidth":1.3},"encoding":{"detail":{"field":"link"},"order":{"field":"row","type":"quantitative"}}},
{"data":{"name":"hits"},"mark":{"type":"point","shape":"circle","filled":true,"size":800,"opacity":0.22},"encoding":{"color":{"field":"hue","type":"nominal","legend":null,"scale":{"domain":["red","blue"],"range":["#f5392d","#1b74e6"]}}}},
{"data":{"name":"hits"},"mark":{"type":"point","shape":"circle","filled":true,"size":680,"opacity":1},"encoding":{"color":{"field":"hue","type":"nominal","legend":null,"scale":{"domain":["red","blue"],"range":["#f5392d","#1b74e6"]}}}},
{"data":{"name":"hits"},"mark":{"type":"text","align":"center","baseline":"middle","fontSize":15.5,"color":"#ffffff","fontWeight":500,"font":"Roboto, Noto Sans CJK SC"},"encoding":{"text":{"field":"text"}}},
{"data":{"values":[{"col":131,"row":30,"text":"预测区"}]},"mark":{"type":"text","align":"center","baseline":"middle","fontSize":15,"color":"#ffffff","font":"Roboto, Noto Sans CJK SC"},"encoding":{"text":{"field":"text"}}},
{"data":{"values":[{"col":132,"row":30,"text":"+"}]},"mark":{"type":"text","align":"center","baseline":"middle","fontSize":24,"fontWeight":300,"color":"#ffffff","font":"Roboto"},"encoding":{"text":{"field":"text"}}},
{"data":{"values":[{"col":-1,"row":30,"text":"•••"}]},"mark":{"type":"text","align":"center","baseline":"middle","fontSize":14,"color":"#2e7de2","font":"DejaVu Sans"},"encoding":{"text":{"field":"text"}}},
{"data":{"name":"arrow"},"mark":{"type":"line","color":"#8a2be0","strokeWidth":9.5}},
{"data":{"values":[{"col":129,"row":30.17}]},"mark":{"type":"point","shape":"M-1,-0.84 L1,-0.84 L0,0.84 Z","size":361,"filled":true,"fill":"#8a2be0","stroke":null,"opacity":1}}
]}
